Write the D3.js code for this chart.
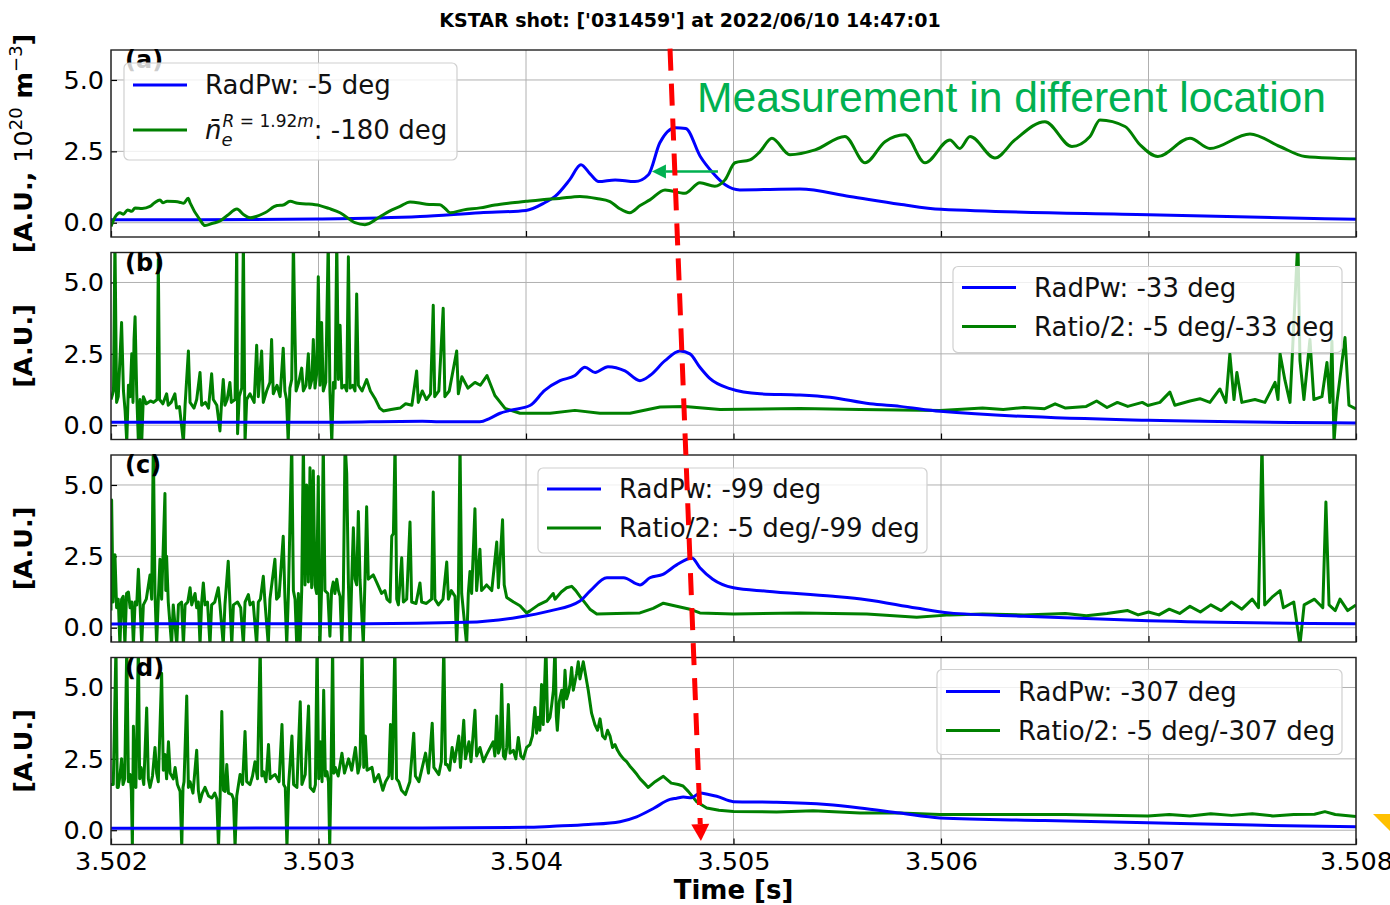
<!DOCTYPE html>
<html>
<head>
<meta charset="utf-8">
<script src="https://cdn.jsdelivr.net/npm/d3@7"></script>
<style>
  body { margin: 0; background: #fff; }
  svg { display: block; }
  text { font-family: "DejaVu Sans", sans-serif; }
</style>
</head>
<body>
<script>
//
// Data  (time is given in ms after T0 = 3.502 s, value in A.U.)
//
const T0 = 3.502
const xTicks = [3.502, 3.503, 3.504, 3.505, 3.506, 3.507, 3.508]
const yTicks = [0, 2.5, 5.0]
const yDomain = [-0.5, 6.05]

const titleText = "KSTAR shot: ['031459'] at 2022/06/10 14:47:01"
const panelLabels = ["(a)", "(b)", "(c)", "(d)"]
const blueNames = ["RadPw: -5 deg", "RadPw: -33 deg", "RadPw: -99 deg", "RadPw: -307 deg"]
const greenNames = [null, "Ratio/2: -5 deg/-33 deg", "Ratio/2: -5 deg/-99 deg", "Ratio/2: -5 deg/-307 deg"]

// (a) radiated power, -5 deg
const radPwA = [[0, 0.1], [0.43, 0.1], [1.0, 0.13], [1.49, 0.22], [1.78, 0.35], [2.0, 0.43], [2.09, 0.7],
  [2.14, 0.92], [2.21, 1.5], [2.265, 2.03], [2.31, 1.7], [2.35, 1.44], [2.43, 1.5], [2.525, 1.44],
  [2.59, 1.68], [2.645, 2.8], [2.72, 3.33], [2.77, 3.3], [2.84, 2.32], [2.9, 1.75], [2.96, 1.33],
  [3.03, 1.15], [3.32, 1.18], [3.56, 0.92], [3.8, 0.65], [4.0, 0.47], [5.0, 0.28], [6.0, 0.12]]

// (a) line averaged density at R = 1.92 m, -180 deg
const neA = [[0, -0.13], [0.02, 0.2], [0.043, 0.35], [0.06, 0.3], [0.08, 0.45], [0.1, 0.4], [0.116, 0.52],
  [0.15, 0.5], [0.188, 0.57], [0.21, 0.7], [0.236, 0.8], [0.25, 0.7], [0.27, 0.75], [0.308, 0.74],
  [0.33, 0.72], [0.35, 0.68], [0.372, 0.86], [0.381, 0.7], [0.429, 0.1], [0.453, -0.1], [0.49, -0.02],
  [0.525, 0.06], [0.56, 0.25], [0.607, 0.48], [0.64, 0.28], [0.67, 0.17], [0.7, 0.22], [0.742, 0.35],
  [0.8, 0.6], [0.83, 0.62], [0.863, 0.75], [0.9, 0.68], [0.94, 0.66], [1.007, 0.6], [1.05, 0.5],
  [1.104, 0.35], [1.176, 0.0], [1.224, -0.07], [1.296, 0.21], [1.34, 0.4], [1.393, 0.57], [1.441, 0.73],
  [1.52, 0.65], [1.585, 0.63], [1.61, 0.5], [1.634, 0.35], [1.7, 0.45], [1.778, 0.52], [1.85, 0.62],
  [1.923, 0.69], [2.0, 0.75], [2.067, 0.8], [2.16, 0.85], [2.26, 0.92], [2.34, 0.85], [2.405, 0.74],
  [2.45, 0.5], [2.5, 0.35], [2.55, 0.6], [2.597, 0.8], [2.67, 1.15], [2.766, 1.03], [2.838, 1.4],
  [2.91, 1.28], [2.959, 1.5], [3.007, 2.1], [3.079, 2.2], [3.128, 2.49], [3.185, 2.96], [3.272, 2.38],
  [3.393, 2.55], [3.537, 3.02], [3.634, 2.1], [3.73, 2.84], [3.826, 3.08], [3.923, 2.1], [4.043, 2.9],
  [4.09, 2.6], [4.14, 3.02], [4.26, 2.27], [4.356, 2.9], [4.501, 3.54], [4.631, 2.67], [4.718, 3.02],
  [4.766, 3.6], [4.887, 3.37], [4.959, 2.73], [5.045, 2.32], [5.2, 2.96], [5.296, 2.6], [5.489, 3.11],
  [5.633, 2.67], [5.754, 2.32], [5.9, 2.26], [6.0, 2.24]]

// (b) radiated power, -33 deg
const radPwB = [[0, 0.1], [1.0, 0.1], [1.5, 0.14], [1.585, 0.12], [1.778, 0.12], [1.826, 0.24], [1.875, 0.42],
  [1.923, 0.52], [2.019, 0.69], [2.09, 1.22], [2.164, 1.56], [2.236, 1.74], [2.284, 2.03], [2.333, 1.85],
  [2.395, 2.05], [2.477, 1.9], [2.549, 1.56], [2.597, 1.74], [2.67, 2.26], [2.742, 2.6], [2.79, 2.5],
  [2.838, 2.03], [2.887, 1.63], [2.983, 1.28], [3.128, 1.1], [3.32, 1.06], [3.465, 0.98], [3.658, 0.75],
  [3.802, 0.66], [3.995, 0.49], [5.0, 0.17], [6.0, 0.08]]

// (b) ratio/2, -5 deg / -33 deg
const ratioB = [[0, 0.9], [0.012, 1.2], [0.019, 6.5], [0.027, 0.8], [0.035, 1.0], [0.051, 3.6], [0.06, 1.2],
  [0.068, 0.5], [0.076, -0.6], [0.084, 1.4], [0.092, 1.0], [0.1, 2.5], [0.106, 0.8], [0.111, 3.0],
  [0.116, 3.8], [0.124, 1.1], [0.132, -0.6], [0.14, 0.9], [0.148, -0.6], [0.156, 1.0], [0.17, 0.75],
  [0.19, 0.85], [0.205, 0.8], [0.222, 0.9], [0.228, 5.8], [0.234, 0.9], [0.25, 0.75], [0.268, 1.1],
  [0.276, 0.7], [0.29, 0.8], [0.308, 1.1], [0.316, 0.6], [0.33, 0.65], [0.349, -0.6], [0.357, 0.7],
  [0.373, 2.6], [0.381, 0.8], [0.4, 0.6], [0.413, 0.9], [0.429, 1.85], [0.437, 0.7], [0.455, 0.8],
  [0.47, 0.6], [0.485, 1.8], [0.493, 0.9], [0.51, 0.7], [0.525, -0.2], [0.533, 0.8], [0.541, 1.6],
  [0.549, 0.7], [0.56, 0.9], [0.573, 1.5], [0.58, 0.8], [0.598, 0.9], [0.606, 6.5], [0.61, -0.3],
  [0.618, 1.0], [0.63, 1.3], [0.638, 6.5], [0.646, -0.6], [0.654, 0.9], [0.67, 1.1], [0.69, 0.8],
  [0.702, 2.8], [0.71, 1.0], [0.726, 2.6], [0.734, 0.8], [0.75, 1.2], [0.766, 1.5], [0.774, 3.0],
  [0.782, 1.1], [0.8, 1.4], [0.815, 1.0], [0.83, 2.7], [0.838, 1.2], [0.846, 0.9], [0.854, -0.6],
  [0.862, 1.3], [0.871, 1.6], [0.879, 6.5], [0.885, 3.8], [0.892, 1.2], [0.905, 1.5], [0.919, 2.0],
  [0.927, 1.2], [0.94, 1.4], [0.951, 2.5], [0.958, 1.3], [0.968, 1.6], [0.975, 3.0], [0.983, 1.3],
  [0.991, 1.8], [0.999, 5.2], [1.007, 1.4], [1.015, 3.6], [1.023, 1.2], [1.035, 1.5], [1.047, 6.5],
  [1.055, 1.2], [1.064, -0.6], [1.072, 1.5], [1.08, 1.3], [1.088, 6.5], [1.096, 1.6], [1.104, 3.5],
  [1.112, 1.3], [1.125, 1.4], [1.136, 1.2], [1.144, 5.9], [1.152, 1.3], [1.165, 1.4], [1.176, 1.2],
  [1.184, 4.6], [1.192, 1.4], [1.21, 1.2], [1.232, 1.6], [1.25, 1.2], [1.275, 0.9], [1.295, 0.6],
  [1.312, 0.5], [1.35, 0.55], [1.393, 0.6], [1.42, 0.75], [1.45, 0.7], [1.473, 1.9], [1.481, 0.8],
  [1.5, 1.2], [1.52, 0.9], [1.54, 1.1], [1.553, 4.2], [1.56, 1.0], [1.58, 1.2], [1.601, 4.1],
  [1.609, 1.0], [1.63, 1.2], [1.666, 2.6], [1.674, 1.1], [1.691, 1.7], [1.72, 1.3], [1.754, 1.5],
  [1.78, 1.4], [1.812, 1.74], [1.85, 1.04], [1.899, 0.59], [1.971, 0.42], [2.116, 0.42], [2.236, 0.52],
  [2.356, 0.42], [2.501, 0.42], [2.646, 0.64], [2.766, 0.66], [2.935, 0.55], [3.32, 0.59], [3.609, 0.55],
  [3.995, 0.52], [4.1, 0.56], [4.2, 0.6], [4.3, 0.55], [4.4, 0.62], [4.5, 0.58], [4.55, 0.75],
  [4.6, 0.6], [4.7, 0.66], [4.75, 0.85], [4.8, 0.62], [4.85, 0.8], [4.9, 0.66], [4.97, 0.8],
  [4.997, 0.69], [5.055, 0.8], [5.103, 1.16], [5.127, 0.7],
  [5.2, 0.85], [5.248, 0.93], [5.296, 0.8], [5.344, 1.27], [5.373, 0.8], [5.392, 2.5], [5.412, 0.9],
  [5.426, 1.85], [5.45, 0.8], [5.513, 0.9], [5.561, 0.8], [5.61, 1.5], [5.624, 0.9], [5.634, 2.5],
  [5.658, 1.56], [5.682, 0.8], [5.72, 6.5], [5.73, 2.26], [5.749, 0.9], [5.778, 3.0], [5.797, 0.9],
  [5.836, 1.0], [5.86, 2.2], [5.874, 0.8], [5.884, 2.95], [5.894, -0.6], [5.908, 0.8], [5.947, 3.07],
  [5.966, 0.7], [6.0, 0.57]]

// (c) radiated power, -99 deg
const radPwC = [[0, 0.13], [0.5, 0.14], [1.232, 0.14], [1.714, 0.19], [1.955, 0.36], [2.116, 0.59],
  [2.26, 0.94], [2.308, 1.28], [2.39, 1.75], [2.47, 1.75], [2.549, 1.5], [2.597, 1.75], [2.66, 1.87],
  [2.726, 2.2], [2.8, 2.44], [2.838, 2.1], [2.9, 1.7], [3.0, 1.4], [3.16, 1.28], [3.48, 1.1], [3.64, 0.98],
  [3.88, 0.69], [4.04, 0.52], [4.4, 0.4], [5.0, 0.24], [6.0, 0.14]]

// (c) ratio/2, -5 deg / -99 deg
const ratioC = [[0, 0.6], [0.003, 4.47], [0.01, 0.9], [0.019, 2.56], [0.027, 0.7], [0.035, 1.0], [0.043, -0.6],
  [0.051, 1.0], [0.059, 1.1], [0.067, -0.6], [0.075, 1.2], [0.084, 1.25], [0.092, 0.7], [0.1, 0.9],
  [0.108, -0.6], [0.116, 0.9], [0.124, 0.8], [0.132, 2.05], [0.14, 0.8], [0.148, -0.6], [0.156, 0.8],
  [0.17, 1.0], [0.188, 1.85], [0.196, 1.0], [0.204, 6.5], [0.212, 1.2], [0.22, -0.6], [0.228, 1.0],
  [0.236, 2.4], [0.244, 1.0], [0.26, 4.7], [0.264, 1.3], [0.268, 2.5], [0.276, 0.9], [0.292, -0.6],
  [0.3, 0.8], [0.317, -0.6], [0.325, 0.8], [0.34, 0.9], [0.349, -0.6], [0.357, 0.8], [0.37, 0.9],
  [0.381, 1.4], [0.389, 0.8], [0.405, 1.2], [0.413, 0.7], [0.421, 0.9], [0.429, -0.6], [0.437, 0.9],
  [0.445, 1.57], [0.453, 0.8], [0.465, 0.9], [0.477, -0.6], [0.485, 0.8], [0.5, 0.9], [0.517, 1.4],
  [0.525, 0.8], [0.541, -0.6], [0.549, 0.8], [0.565, 2.33], [0.573, 0.9], [0.582, -0.6], [0.59, 0.8],
  [0.61, 0.9], [0.625, 0.7], [0.638, -0.6], [0.646, 0.9], [0.662, 1.16], [0.67, 0.8], [0.685, 0.9],
  [0.702, -0.6], [0.71, 0.9], [0.72, 1.0], [0.734, 1.8], [0.742, 0.9], [0.758, -0.6], [0.766, 1.0],
  [0.79, 2.4], [0.798, 1.0], [0.81, 1.1], [0.83, 3.2], [0.838, 1.1], [0.847, -0.6], [0.855, 1.2],
  [0.871, 6.5], [0.879, 1.3], [0.887, 1.0], [0.895, -0.6], [0.903, 1.2], [0.911, -0.6], [0.919, 1.3],
  [0.927, 6.5], [0.935, 1.5], [0.943, 5.0], [0.951, 1.6], [0.959, 5.6], [0.967, 1.4], [0.975, 5.5],
  [0.983, 1.5], [0.991, 1.2], [0.999, 5.3], [1.003, 1.5], [1.007, -0.6], [1.015, 1.4], [1.023, 6.5],
  [1.031, 1.3], [1.045, 1.2], [1.055, -0.3], [1.063, 1.3], [1.071, 1.6], [1.079, 1.2], [1.088, 1.7],
  [1.096, 1.3], [1.104, 1.1], [1.112, -0.6], [1.12, 1.4], [1.128, 6.5], [1.136, 5.4], [1.144, 1.6],
  [1.152, -0.6], [1.16, 1.6], [1.168, 3.5], [1.176, 1.7], [1.184, 1.5], [1.192, 4.07], [1.2, 1.7],
  [1.216, -0.6], [1.224, 1.7], [1.232, 4.24], [1.24, 1.7], [1.264, 1.85], [1.28, 1.6], [1.304, 1.2],
  [1.32, 1.3], [1.33, 1.0], [1.345, 0.9], [1.353, 3.2], [1.361, 3.3], [1.369, 6.5], [1.377, 1.0],
  [1.385, 0.8], [1.401, 2.45], [1.409, 0.9], [1.425, 1.0], [1.441, 3.7], [1.449, 0.9], [1.47, 0.85],
  [1.489, 1.57], [1.497, 0.9], [1.52, 0.85], [1.545, 1.0], [1.553, 4.75], [1.561, 1.0], [1.578, 0.8],
  [1.6, 1.0], [1.618, 2.3], [1.626, 1.0], [1.64, 1.3], [1.658, 1.1], [1.666, -0.6], [1.674, 1.1],
  [1.682, 6.5], [1.69, 1.2], [1.714, -0.6], [1.722, 1.2], [1.73, 1.97], [1.738, 1.2], [1.754, 4.17],
  [1.762, 1.3], [1.778, 2.75], [1.786, 1.3], [1.81, 1.5], [1.835, 1.3], [1.859, 3.0], [1.867, 1.4],
  [1.887, 3.78], [1.895, 1.5], [1.907, 1.06], [1.94, 0.9], [1.971, 0.77], [2.003, 0.52], [2.019, 0.59],
  [2.06, 0.8], [2.1, 0.94], [2.131, 1.2], [2.14, 1.0], [2.17, 1.25], [2.196, 1.4], [2.22, 1.45],
  [2.24, 1.3], [2.26, 1.1], [2.308, 0.65], [2.341, 0.48], [2.437, 0.5], [2.549, 0.52], [2.613, 0.68],
  [2.662, 0.86], [2.726, 0.75], [2.79, 0.65], [2.838, 0.52], [3.0, 0.48], [3.32, 0.52], [3.642, 0.48],
  [3.883, 0.37], [4.043, 0.45], [4.2, 0.48], [4.4, 0.45], [4.6, 0.5], [4.7, 0.42], [4.8, 0.5],
  [4.9, 0.6], [4.95, 0.45], [5.0, 0.55], [5.05, 0.45], [5.1, 0.65], [5.15, 0.5], [5.2, 0.75],
  [5.25, 0.55], [5.3, 0.8], [5.35, 0.6], [5.4, 0.9], [5.45, 0.65], [5.5, 1.0], [5.53, 0.7],
  [5.547, 6.5], [5.56, 0.8], [5.6, 1.1], [5.634, 1.3], [5.65, 0.7], [5.7, 0.9], [5.73, -0.6],
  [5.75, 0.8], [5.8, 1.0], [5.84, 0.7], [5.855, 4.4], [5.87, 0.8], [5.9, 0.6], [5.923, 1.0],
  [5.96, 0.6], [6.0, 0.8]]

// (d) radiated power, -307 deg
const radPwD = [[0, 0.07], [0.5, 0.07], [1.0, 0.08], [1.5, 0.08], [2.0, 0.1], [2.13, 0.14], [2.3, 0.2],
  [2.453, 0.3], [2.533, 0.47], [2.614, 0.76], [2.694, 1.08], [2.726, 1.12], [2.758, 1.16], [2.798, 1.14],
  [2.838, 1.3], [2.88, 1.25], [2.919, 1.19], [2.999, 1.0], [3.208, 0.98], [3.449, 0.9], [3.61, 0.78],
  [3.802, 0.6], [3.995, 0.43], [4.5, 0.34], [4.997, 0.26], [5.5, 0.18], [6.0, 0.12]]

// (d) ratio/2, -5 deg / -307 deg
const ratioD = [[0, 1.6], [0.011, 1.6], [0.024, 6.5], [0.03, 1.5], [0.035, 1.5], [0.043, 1.9], [0.051, 2.5],
  [0.058, 1.6], [0.066, 1.8], [0.076, 6.5], [0.084, 1.7], [0.092, 1.95], [0.098, 1.4], [0.103, -0.6],
  [0.108, 3.64], [0.114, 1.7], [0.12, 1.5], [0.132, 6.5], [0.138, 1.8], [0.145, 2.2], [0.158, 1.6],
  [0.172, 4.28], [0.18, 1.8], [0.188, 1.5], [0.2, 1.9], [0.212, 2.9], [0.22, 2.0], [0.228, 1.7],
  [0.244, 5.5], [0.252, 2.1], [0.26, 2.65], [0.268, 1.8], [0.277, 3.1], [0.285, 2.0], [0.3, 1.8],
  [0.309, 2.2], [0.32, 1.6], [0.333, 1.36], [0.341, -0.6], [0.347, 1.5], [0.352, 1.7], [0.365, 4.7],
  [0.373, 1.5], [0.381, 1.7], [0.395, 1.3], [0.413, 2.8], [0.421, 1.4], [0.429, 1.0], [0.44, 1.3],
  [0.453, 1.5], [0.47, 1.2], [0.486, 1.13], [0.5, 1.3], [0.51, 1.1], [0.518, -0.6], [0.526, 1.2],
  [0.534, 4.16], [0.542, 1.4], [0.55, 1.36], [0.558, 2.3], [0.566, 1.3], [0.582, 1.25], [0.59, 1.1],
  [0.598, -0.6], [0.606, 1.2], [0.622, 1.95], [0.634, 1.6], [0.646, 3.46], [0.654, 1.7], [0.67, 1.6],
  [0.682, 1.9], [0.694, 2.4], [0.706, 1.8], [0.719, 6.5], [0.727, 1.9], [0.735, 2.05], [0.747, 1.7],
  [0.759, 3.0], [0.767, 1.8], [0.78, 1.9], [0.791, 1.95], [0.81, 1.7], [0.824, 3.7], [0.832, 1.6],
  [0.84, 1.5], [0.848, -0.6], [0.856, 1.6], [0.872, 3.3], [0.88, 1.6], [0.896, 1.5], [0.912, 4.5],
  [0.92, 1.6], [0.936, 1.95], [0.952, 4.35], [0.96, 1.5], [0.977, 1.36], [0.985, 1.6], [0.993, 6.5],
  [1.001, 1.8], [1.009, 3.1], [1.017, 1.7], [1.025, 4.9], [1.033, 1.9], [1.041, 2.05], [1.048, 1.7],
  [1.054, -0.6], [1.06, 1.8], [1.068, 6.5], [1.074, 2.0], [1.081, 2.2], [1.095, 1.9], [1.113, 2.7],
  [1.125, 2.0], [1.145, 2.5], [1.16, 2.1], [1.178, 2.9], [1.19, 2.0], [1.2, 2.3], [1.21, 6.5],
  [1.218, 2.2], [1.226, 3.3], [1.234, 2.1], [1.258, 2.2], [1.27, 1.7], [1.29, 1.95], [1.31, 1.4],
  [1.323, 1.7], [1.339, 1.9], [1.347, 3.7], [1.355, 1.8], [1.368, 6.5], [1.376, 1.8], [1.387, 1.7],
  [1.4, 1.4], [1.419, 1.25], [1.44, 1.7], [1.459, 3.4], [1.467, 1.9], [1.484, 1.7], [1.5, 2.2],
  [1.516, 2.7], [1.53, 2.0], [1.548, 3.75], [1.556, 2.2], [1.58, 1.95], [1.592, 2.4], [1.604, 6.5],
  [1.612, 2.3], [1.62, 2.3], [1.632, 2.1], [1.644, 2.9], [1.656, 2.4], [1.676, 3.3], [1.684, 2.2],
  [1.7, 3.85], [1.708, 2.5], [1.725, 3.1], [1.735, 2.4], [1.754, 4.2], [1.762, 2.6], [1.778, 2.9],
  [1.795, 2.4], [1.81, 2.65], [1.842, 3.1], [1.85, 2.6], [1.859, 4.0], [1.867, 2.7], [1.875, 2.9],
  [1.883, 5.1], [1.891, 2.6], [1.899, 2.5], [1.907, 2.9], [1.915, 4.4], [1.923, 2.7], [1.939, 2.8],
  [1.951, 2.5], [1.963, 3.25], [1.975, 2.6], [1.987, 2.5], [2.003, 2.9], [2.019, 3.0], [2.031, 3.3],
  [2.043, 4.3], [2.051, 3.4], [2.059, 3.96], [2.067, 3.5], [2.075, 5.1], [2.083, 3.7], [2.096, 6.5],
  [2.104, 3.8], [2.116, 3.96], [2.124, 4.4], [2.132, 4.9], [2.14, 6.5], [2.146, 4.0], [2.151, 3.5],
  [2.16, 4.5], [2.172, 4.9], [2.18, 4.3], [2.188, 5.6], [2.196, 4.6], [2.204, 4.8], [2.212, 5.1],
  [2.22, 5.7], [2.228, 4.9], [2.236, 5.2], [2.244, 5.5], [2.252, 5.9], [2.26, 5.3], [2.268, 5.6],
  [2.276, 5.9], [2.288, 5.4], [2.3, 4.9], [2.316, 4.1], [2.332, 3.7], [2.345, 3.5], [2.357, 3.9],
  [2.369, 3.3], [2.381, 3.2], [2.393, 3.5], [2.405, 3.3], [2.417, 2.9], [2.429, 3.0], [2.441, 2.8],
  [2.453, 2.65], [2.47, 2.5], [2.485, 2.4], [2.5, 2.25], [2.518, 2.1], [2.535, 1.95], [2.55, 1.8],
  [2.57, 1.65], [2.589, 1.5], [2.605, 1.6], [2.622, 1.7], [2.662, 1.89], [2.7, 1.65], [2.734, 1.6],
  [2.757, 1.55], [2.782, 1.36], [2.822, 1.0], [2.871, 0.78], [2.93, 0.7], [3.0, 0.66], [3.208, 0.64],
  [3.384, 0.68], [3.61, 0.6], [3.802, 0.6], [3.995, 0.55], [4.3, 0.55], [4.6, 0.55], [4.997, 0.5],
  [5.1, 0.55], [5.2, 0.5], [5.3, 0.58], [5.4, 0.52], [5.5, 0.58], [5.6, 0.5], [5.7, 0.55],
  [5.8, 0.56], [5.85, 0.65], [5.9, 0.55], [6.0, 0.48]]

// annotations (ms after T0, value, panel index)
const redArrow = { from: [2.694, 6.1, 0], to: [2.843, -0.38, 3] }
const greenArrow = { from: [2.925, 1.79], to: [2.607, 1.79] }
const noteText = { text: "Measurement in different location", at: [2.824, 3.89] }

//
// Layout
//
const W = 1390, H = 905
const plotLeft = 111, plotRight = 1356
const panelTop0 = 50, panelH = 187, panelStep = 202.5
const blue = "#0000ff", green = "#008000", noteGreen = "#00b050"
const tickFont = 25.5, legendFont = 26

const legendBoxes = [
  { left: 13, top: 13, w: 333, h: 97, rows: [22, 67] },
  { right: 14, top: 14, w: 389, h: 86, rows: [21, 60] },
  { left: 427, top: 13, w: 389, h: 85, rows: [21, 60] },
  { right: 14, top: 12, w: 405, h: 85, rows: [22, 61] }
]

const blueSeries = [radPwA, radPwB, radPwC, radPwD]
const greenSeries = [neA, ratioB, ratioC, ratioD]

const svg = d3.select("body").append("svg").attr("width", W).attr("height", H)
const x = d3.scaleLinear().domain([xTicks[0], xTicks[xTicks.length - 1]]).range([plotLeft, plotRight])
const tx = ms => x(T0 + ms / 1000)

const yScales = []

// title
svg.append("text")
  .attr("x", 690).attr("y", 27)
  .attr("text-anchor", "middle")
  .attr("font-size", 19).attr("font-weight", "bold")
  .text(titleText)

panelLabels.forEach(function(label, i) {
  const top = panelTop0 + i * panelStep
  const y = d3.scaleLinear().domain(yDomain).range([top + panelH, top])
  yScales.push(y)
  const g = svg.append("g")

  svg.append("clipPath").attr("id", "clip" + i)
    .append("rect").attr("x", plotLeft).attr("y", top)
    .attr("width", plotRight - plotLeft).attr("height", panelH)

  // grid
  g.append("g").selectAll("line").data(xTicks).join("line")
    .attr("x1", d => x(d)).attr("x2", d => x(d))
    .attr("y1", top).attr("y2", top + panelH)
    .attr("stroke", "#b0b0b0").attr("stroke-width", 1)
  g.append("g").selectAll("line").data(yTicks).join("line")
    .attr("x1", plotLeft).attr("x2", plotRight)
    .attr("y1", d => y(d)).attr("y2", d => y(d))
    .attr("stroke", "#b0b0b0").attr("stroke-width", 1)

  // axes with inward ticks
  const xa = g.append("g").attr("transform", `translate(0,${top + panelH})`)
    .call(d3.axisBottom(x).tickValues(xTicks).tickSize(-6).tickPadding(7)
      .tickFormat(i === 3 ? d3.format(".3f") : ""))
  const ya = g.append("g").attr("transform", `translate(${plotLeft},0)`)
    .call(d3.axisLeft(y).tickValues(yTicks).tickSize(-6).tickPadding(7).tickFormat(d3.format(".1f")))
  ;[xa, ya].forEach(a => {
    a.select(".domain").remove()
    a.selectAll("text").attr("font-size", tickFont).attr("fill", "#000")
      .style("font-family", "DejaVu Sans")
    a.selectAll("line").attr("stroke", "#000").attr("stroke-width", 1.2)
  })

  // series: smooth traces get a monotone curve, spiky ratios stay linear
  const line = d3.line().x(d => tx(d[0])).y(d => y(d[1]))
  const smooth = d3.line().x(d => tx(d[0])).y(d => y(d[1])).curve(d3.curveMonotoneX)
  const lines = g.append("g").attr("clip-path", `url(#clip${i})`)
  const bluePath = lines.append("path").datum(blueSeries[i])
    .attr("d", smooth).attr("fill", "none")
    .attr("stroke", blue).attr("stroke-width", 3).attr("stroke-linejoin", "round")
  const greenPath = lines.append("path").datum(greenSeries[i])
    .attr("d", i === 0 ? smooth : line).attr("fill", "none")
    .attr("stroke", green).attr("stroke-width", 3).attr("stroke-linejoin", "round")
  if (i > 0) bluePath.raise()

  // frame
  g.append("rect").attr("x", plotLeft).attr("y", top)
    .attr("width", plotRight - plotLeft).attr("height", panelH)
    .attr("fill", "none").attr("stroke", "#222").attr("stroke-width", 1.4)

  // panel label
  g.append("text").attr("x", plotLeft + 14).attr("y", top + 18)
    .attr("font-size", 24).attr("font-weight", "bold").text(label)

  // y label
  const yl = svg.append("text")
    .attr("transform", `translate(32,${top + panelH / 2}) rotate(-90)`)
    .attr("text-anchor", "middle").attr("font-size", 25.5).attr("font-weight", "bold")
  if (i === 0) {
    yl.append("tspan").text("[A.U., ")
    yl.append("tspan").attr("font-weight", "normal").text("10")
    yl.append("tspan").attr("font-weight", "normal").attr("font-size", 18).attr("dy", -10).text("20")
    yl.append("tspan").attr("dy", 10).text(" m")
    yl.append("tspan").attr("font-weight", "normal").attr("font-size", 18).attr("dy", -10).text("\u22123")
    yl.append("tspan").attr("dy", 10).text("]")
  } else {
    yl.text("[A.U.]")
  }

  // legend
  const lb = legendBoxes[i]
  const bx = lb.left !== undefined ? plotLeft + lb.left : plotRight - lb.right - lb.w
  const by = top + lb.top
  const lg = svg.append("g")
  lg.append("rect").attr("x", bx).attr("y", by).attr("width", lb.w).attr("height", lb.h)
    .attr("rx", 5).attr("fill", "#fff").attr("fill-opacity", 0.8)
    .attr("stroke", "#d0d0d0").attr("stroke-width", 1.2)
  ;[[blue, blueNames[i]], [green, greenNames[i]]].forEach(function(entry, k) {
    const cy = by + lb.rows[k]
    lg.append("line").attr("x1", bx + 9).attr("x2", bx + 63).attr("y1", cy).attr("y2", cy)
      .attr("stroke", entry[0]).attr("stroke-width", 3)
    const t = lg.append("text").attr("x", bx + 81).attr("y", cy + 9)
      .attr("font-size", legendFont).attr("fill", "#111")
    if (entry[1]) {
      t.text(entry[1])
    } else {
      // n̄_e^{R = 1.92m}
      t.append("tspan").attr("font-style", "italic").text("n\u0304")
      t.append("tspan").attr("font-style", "italic").attr("font-size", 18).attr("dy", 7).text("e")
      const sup = t.append("tspan").attr("font-size", 17).attr("dx", -10).attr("dy", -19)
      sup.append("tspan").attr("font-style", "italic").text("R")
      sup.append("tspan").text(" = 1.92")
      sup.append("tspan").attr("font-style", "italic").text("m")
      t.append("tspan").attr("dy", 12).text(": -180 deg")
    }
  })
})

// x label
svg.append("text").attr("x", (plotLeft + plotRight) / 2).attr("y", 899)
  .attr("text-anchor", "middle").attr("font-size", 26).attr("font-weight", "bold")
  .text("Time [s]")

// green note in (a)
const ya0 = yScales[0]
svg.append("text").attr("x", tx(noteText.at[0])).attr("y", ya0(noteText.at[1]))
  .attr("font-size", 42.6).attr("fill", noteGreen)
  .style("font-family", "'Liberation Sans', Arial, sans-serif")
  .text(noteText.text)

function arrow(x1, y1, x2, y2, color, width, headLen, headHalf, dash) {
  const dx = x2 - x1, dy = y2 - y1, len = Math.hypot(dx, dy)
  const ux = dx / len, uy = dy / len
  const bxp = x2 - ux * headLen, byp = y2 - uy * headLen
  svg.append("line").attr("x1", x1).attr("y1", y1).attr("x2", bxp).attr("y2", byp)
    .attr("stroke", color).attr("stroke-width", width)
    .attr("stroke-dasharray", dash || null)
  svg.append("path")
    .attr("d", `M${x2},${y2}L${bxp - uy * headHalf},${byp + ux * headHalf}L${bxp + uy * headHalf},${byp - ux * headHalf}Z`)
    .attr("fill", color)
}

arrow(tx(greenArrow.from[0]), ya0(greenArrow.from[1]), tx(greenArrow.to[0]), ya0(greenArrow.to[1]),
  noteGreen, 2.5, 14, 7)

arrow(tx(redArrow.from[0]), yScales[redArrow.from[2]](redArrow.from[1]),
  tx(redArrow.to[0]), yScales[redArrow.to[2]](redArrow.to[1]),
  "#ff0000", 5, 17, 9, "22,13")

// small orange mark cut by the right edge
svg.append("path").attr("d", `M${W - 17},814L${W},814L${W},831Z`).attr("fill", "#ffc000")
</script>
</body>
</html>
